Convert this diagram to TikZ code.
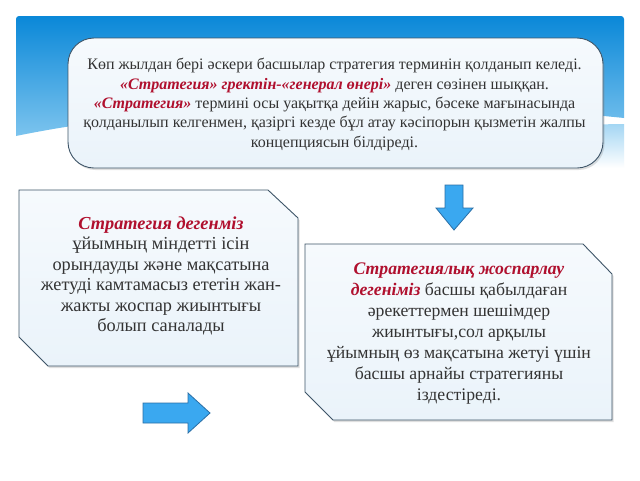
\documentclass[tikz,border=0pt]{standalone}
\usepackage{fontspec}
\setmainfont{Liberation Serif}
\usetikzlibrary{shadows}
\definecolor{hdrtop}{HTML}{0A88D8}
\definecolor{hdrbot}{HTML}{7CC4EE}
\definecolor{boxfill}{HTML}{EAF3FA}
\definecolor{boxfilltop}{HTML}{F6FAFD}
\definecolor{boxline}{HTML}{3E5568}
\definecolor{txt}{HTML}{333333}
\definecolor{hl}{HTML}{B0102E}
\definecolor{arrfill}{HTML}{3AA8F0}
\definecolor{arrline}{HTML}{2B6FA6}
\tikzset{
  panel/.style={draw=boxline, line width=0.9pt, top color=boxfilltop, bottom color=boxfill,
    drop shadow={shadow xshift=1.5pt, shadow yshift=-2pt, opacity=0.25}},
  blockarrow/.style={draw=arrline, line width=0.8pt, fill=arrfill},
  bodytext/.style={text=txt, align=center, inner sep=0pt},
}
\newcommand{\hlt}[1]{\textcolor{hl}{\textbf{\textit{#1}}}}
\begin{document}
\begin{tikzpicture}[x=1pt,y=-1pt]
\useasboundingbox (0,0) rectangle (640,480);
\fill[white] (0,0) rectangle (640,480);
% header band
\shade[top color=hdrtop, bottom color=hdrbot]
  (16,19) to[out=90,in=180] (19,16) -- (621,16) to[out=0,in=90] (624,19)
  -- (624,118) .. controls (450,100) and (200,98) .. (16,136) -- cycle;
\shade[top color=hdrbot!70, bottom color=white]
  (624,124) .. controls (560,124) and (520,135) .. (500,168) -- (624,168) -- cycle;
% top panel
\draw[panel, rounded corners=26pt] (68,38) rectangle (603,168);
\node[bodytext, font=\fontsize{16}{19.3}\selectfont] (intro) at (334.5,104.5)
  {Көп жылдан бері әскери басшылар стратегия терминін қолданып келеді.\\
   \hlt{«Стратегия» гректін-«генерал өнері»} деген сөзінен шыққан.\\
   \hlt{«Стратегия»} термині осы уақытқа дейін жарыс, бәсеке мағынасында\\
   қолданылып келгенмен, қазіргі кезде бұл атау кәсіпорын қызметін жалпы\\
   концепциясын білдіреді.};
% left panel
\draw[panel] (19,190) -- (268,190) -- (298,218) -- (298,366) -- (48,366) -- (19,337) -- cycle;
\node[bodytext, font=\fontsize{18.3}{20.4}\selectfont] (def) at (161,276)
  {\hlt{Стратегия дегенміз}\\
   ұйымның міндетті ісін\\
   орындауды және мақсатына\\
   жетуді камтамасыз ететін жан-\\
   жакты жоспар жиынтығы\\
   болып саналады};
% right panel
\draw[panel] (305,244) -- (583,244) -- (612,274) -- (612,420) -- (333,420) -- (305,392) -- cycle;
\node[bodytext, font=\fontsize{17.7}{21.1}\selectfont] (plan) at (459,333.5)
  {\hlt{Стратегиялық жоспарлау}\\
   \hlt{дегеніміз} басшы қабылдаған\\
   әрекеттермен шешімдер\\
   жиынтығы,сол арқылы\\
   ұйымның өз мақсатына жетуі үшін\\
   басшы арнайы стратегияны\\
   іздестіреді.};
% block arrows
\draw[blockarrow] (445,185) -- (463,185) -- (463,208) -- (473,208) -- (454,230)
  -- (436,208) -- (445,208) -- cycle;
\draw[blockarrow] (143,403) -- (188,403) -- (188,393) -- (210,413) -- (188,433)
  -- (188,423) -- (143,423) -- cycle;
\end{tikzpicture}
\end{document}
